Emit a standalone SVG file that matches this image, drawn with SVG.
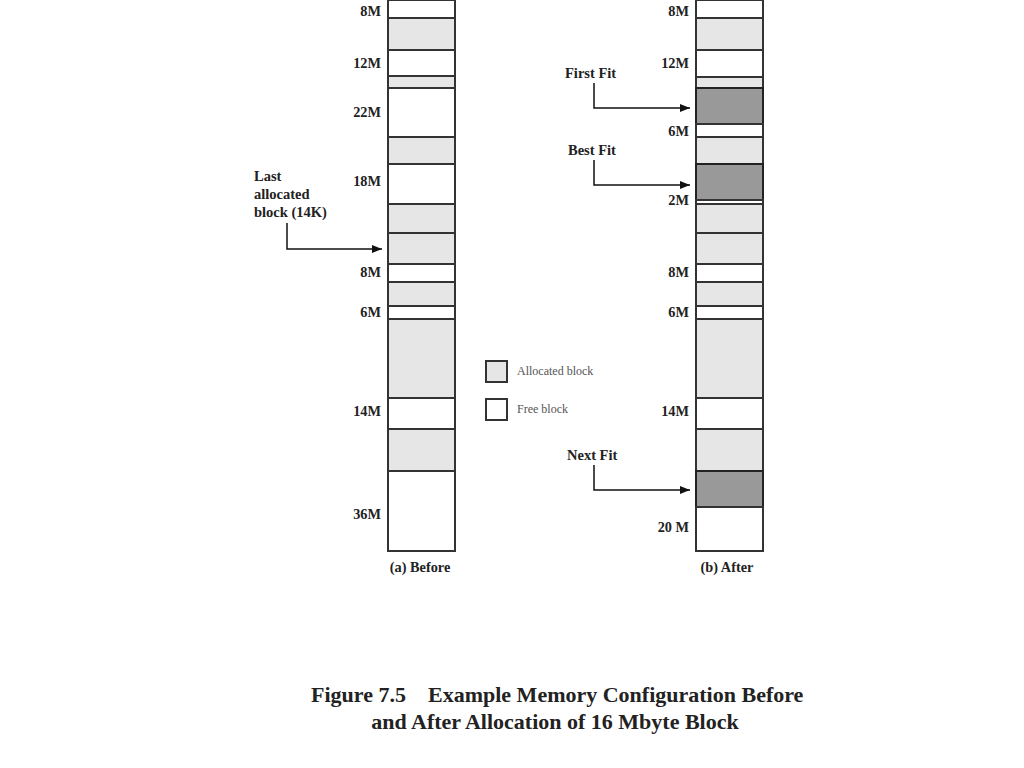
<svg xmlns="http://www.w3.org/2000/svg" width="1024" height="768" viewBox="0 0 1024 768">
<style>
.free{fill:#ffffff;stroke:#333333;stroke-width:2}
.alloc{fill:#e6e6e6;stroke:#333333;stroke-width:2}
.new{fill:#999999;stroke:#222222;stroke-width:2}
.lbl{font-family:"Liberation Serif",serif;font-weight:bold;font-size:14.3px;fill:#222;text-anchor:end}
.ann{font-family:"Liberation Serif",serif;font-weight:bold;font-size:14.5px;fill:#222}
.leg{font-family:"Liberation Serif",serif;font-size:12px;fill:#555}
.cap{font-family:"Liberation Serif",serif;font-weight:bold;font-size:22px;fill:#222}
.sub{font-family:"Liberation Serif",serif;font-weight:bold;font-size:14.3px;fill:#222;text-anchor:middle}
.conn{fill:none;stroke:#111;stroke-width:1.5}
</style>
<defs>
<marker id="ah" viewBox="0 0 10 10" refX="10" refY="5" markerWidth="10" markerHeight="8" markerUnits="userSpaceOnUse" orient="auto" preserveAspectRatio="none">
<path d="M0,0 L10,5 L0,10 z" fill="#111"/>
</marker>
</defs>
<rect width="1024" height="768" fill="#ffffff"/>

<g id="before">
<rect class="free" x="388" y="0" width="67" height="18"/>
<rect class="alloc" x="388" y="18" width="67" height="32"/>
<rect class="free" x="388" y="50" width="67" height="26"/>
<rect class="alloc" x="388" y="76" width="67" height="12"/>
<rect class="free" x="388" y="88" width="67" height="49"/>
<rect class="alloc" x="388" y="137" width="67" height="27"/>
<rect class="free" x="388" y="164" width="67" height="40"/>
<rect class="alloc" x="388" y="204" width="67" height="29"/>
<rect class="alloc" x="388" y="233" width="67" height="31"/>
<rect class="free" x="388" y="264" width="67" height="18"/>
<rect class="alloc" x="388" y="282" width="67" height="24"/>
<rect class="free" x="388" y="306" width="67" height="13"/>
<rect class="alloc" x="388" y="319" width="67" height="79"/>
<rect class="free" x="388" y="398" width="67" height="31"/>
<rect class="alloc" x="388" y="429" width="67" height="42"/>
<rect class="free" x="388" y="471" width="67" height="80"/>
<text class="lbl" x="381" y="16">8M</text>
<text class="lbl" x="381" y="68">12M</text>
<text class="lbl" x="381" y="117">22M</text>
<text class="lbl" x="381" y="186">18M</text>
<text class="lbl" x="381" y="277">8M</text>
<text class="lbl" x="381" y="317">6M</text>
<text class="lbl" x="381" y="416">14M</text>
<text class="lbl" x="381" y="519">36M</text>
<text class="sub" x="420" y="572">(a) Before</text>
</g>

<g id="after">
<rect class="free" x="696" y="0" width="67" height="18"/>
<rect class="alloc" x="696" y="18" width="67" height="32"/>
<rect class="free" x="696" y="50" width="67" height="27"/>
<rect class="alloc" x="696" y="77" width="67" height="11"/>
<rect class="new" x="696" y="88" width="67" height="36"/>
<rect class="free" x="696" y="124" width="67" height="13"/>
<rect class="alloc" x="696" y="137" width="67" height="27"/>
<rect class="new" x="696" y="164" width="67" height="36"/>
<rect class="free" x="696" y="200" width="67" height="4"/>
<rect class="alloc" x="696" y="204" width="67" height="29"/>
<rect class="alloc" x="696" y="233" width="67" height="31"/>
<rect class="free" x="696" y="264" width="67" height="18"/>
<rect class="alloc" x="696" y="282" width="67" height="24"/>
<rect class="free" x="696" y="306" width="67" height="13"/>
<rect class="alloc" x="696" y="319" width="67" height="79"/>
<rect class="free" x="696" y="398" width="67" height="31"/>
<rect class="alloc" x="696" y="429" width="67" height="42"/>
<rect class="new" x="696" y="471" width="67" height="36"/>
<rect class="free" x="696" y="507" width="67" height="44"/>
<text class="lbl" x="689" y="16">8M</text>
<text class="lbl" x="689" y="68">12M</text>
<text class="lbl" x="689" y="136">6M</text>
<text class="lbl" x="689" y="205">2M</text>
<text class="lbl" x="689" y="277">8M</text>
<text class="lbl" x="689" y="317">6M</text>
<text class="lbl" x="689" y="416">14M</text>
<text class="lbl" x="689" y="532">20 M</text>
<text class="sub" x="727" y="572">(b) After</text>
</g>

<g id="legend">
<rect class="alloc" x="486" y="361" width="21" height="21"/>
<text class="leg" x="517" y="375">Allocated block</text>
<rect class="free" x="486" y="399" width="21" height="21"/>
<text class="leg" x="517" y="413">Free block</text>
</g>

<g id="annotations">
<text class="ann" x="254" y="181">Last</text>
<text class="ann" x="254" y="199">allocated</text>
<text class="ann" x="254" y="217">block (14K)</text>
<text class="ann" x="565" y="78">First Fit</text>
<text class="ann" x="568" y="155">Best Fit</text>
<text class="ann" x="567" y="460">Next Fit</text>
</g>

<g id="connectors">
<path class="conn" d="M287,223 V249 H382" marker-end="url(#ah)"/>
<path class="conn" d="M594,83 V108 H690" marker-end="url(#ah)"/>
<path class="conn" d="M594,160 V185 H690" marker-end="url(#ah)"/>
<path class="conn" d="M594,465 V490 H690" marker-end="url(#ah)"/>
</g>

<g id="caption">
<text class="cap" x="311" y="702">Figure 7.5</text>
<text class="cap" x="428" y="702">Example Memory Configuration Before</text>
<text class="cap" x="555" y="729" text-anchor="middle">and After Allocation of 16 Mbyte Block</text>
</g>
</svg>
